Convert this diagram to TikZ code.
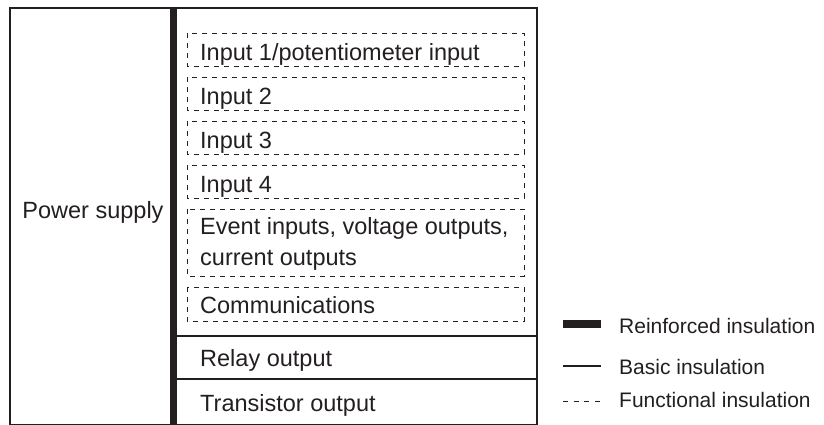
\documentclass[tikz,border=0pt]{standalone}
\usepackage{fontspec}
\setmainfont{Liberation Sans}
\definecolor{ink}{HTML}{231F20}
\begin{document}
\begin{tikzpicture}[x=1pt,y=-1pt,
  txt/.style={anchor=base west, inner sep=0pt, font=\fontsize{23.5}{28}\selectfont, text=ink},
  leg/.style={anchor=base west, inner sep=0pt, font=\fontsize{21}{25}\selectfont, text=ink},
  basic/.style={draw=ink, line width=2pt},
  reinf/.style={draw=ink, line width=7pt},
  func/.style={draw=ink, line width=1pt, dash pattern=on 5pt off 5pt}]
\useasboundingbox (0,0) rectangle (824,424);
% outer frame and insulation lines
\draw[basic] (10,8) rectangle (537,424.6);
\draw[reinf] (173.5,8) -- (173.5,424);
\draw[basic] (177,336) -- (537,336);
\draw[basic] (177,379) -- (537,379);
% functional insulation boxes
\draw[func] (187,33) rectangle (524,66);
\draw[func] (187,77) rectangle (524,110);
\draw[func] (187,121) rectangle (524,154);
\draw[func] (187,165) rectangle (524,198);
\draw[func] (187,209) rectangle (524,276);
\draw[func] (187,287) rectangle (524,321);
% texts
\node[txt, anchor=base] (ps) at (93,218) {Power supply};
\node[txt] (in1) at (200,60) {Input 1/potentiometer input};
\node[txt] (in2) at (200,104) {Input 2};
\node[txt] (in3) at (200,148) {Input 3};
\node[txt] (in4) at (200,192) {Input 4};
\node[txt] (ev1) at (200,234) {Event inputs, voltage outputs,};
\node[txt] (ev2) at (200,265) {current outputs};
\node[txt] (com) at (200,313) {Communications};
\node[txt] (rel) at (200,366) {Relay output};
\node[txt] (tra) at (200,411) {Transistor output};
% legend
\coordinate (r1) at (563,324); \coordinate (r2) at (601,324);
\coordinate (b1) at (563,365.5); \coordinate (b2) at (601,365.5);
\coordinate (f1) at (563,401); \coordinate (f2) at (603,401);
\draw[draw=ink, line width=8pt] (r1) -- (r2);
\draw[basic] (b1) -- (b2);
\draw[draw=ink, line width=1pt, dash pattern=on 5pt off 5.7pt] (f1) -- (f2);
\node[leg] (lr) at (619,333) {Reinforced insulation};
\node[leg] (lb) at (619,374) {Basic insulation};
\node[leg] (lf) at (619,407) {Functional insulation};
\end{tikzpicture}
\end{document}
